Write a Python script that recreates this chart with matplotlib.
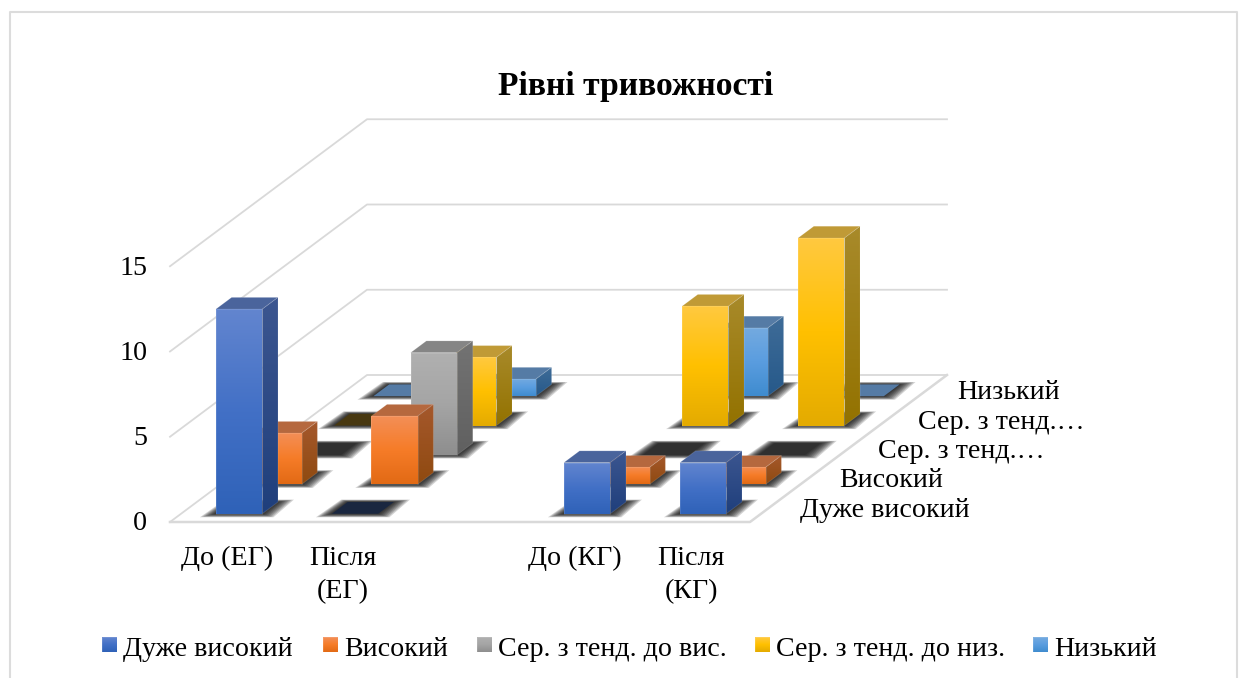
import numpy as np
import matplotlib
matplotlib.use('Agg')
import matplotlib.pyplot as plt
from matplotlib.patches import Polygon
from matplotlib.colors import to_rgb

plt.rcParams['font.family'] = ['Liberation Serif', 'DejaVu Serif']

title = 'Рівні тривожності'
categories = ['До (ЕГ)', 'Після\n(ЕГ)', '', 'До (КГ)', 'Після\n(КГ)']
series_axis = ['Дуже високий', 'Високий', 'Сер. з тенд.…', 'Сер. з тенд.…', 'Низький']
legend_labels = ['Дуже високий', 'Високий', 'Сер. з тенд. до вис.', 'Сер. з тенд. до низ.', 'Низький']
value_ticks = [0, 5, 10, 15]

# values per series, one entry per category (None = blank spacer category)
very_high = [12, 0, None, 3, 3]
high = [3, 4, None, 1, 1]
mid_high = [0, 6, None, 0, 0]
mid_low = [0, 4, None, 7, 11]
low = [0, 1, None, 4, 0]
series = [very_high, high, mid_high, mid_low, low]

# colours per series: front gradient (top, middle, bottom), side gradient, top face, flat zero bar
front_cols = [('#6285cf', '#4270c6', '#2f62b8'), ('#f38f58', '#f67c28', '#e26a15'),
              ('#b0b0b0', '#a5a5a5', '#8e8e8e'), ('#ffc93f', '#ffc000', '#e4ab00'),
              ('#74aae0', '#5a9ddf', '#3f8ccf')]
side_cols = [('#3c5690', '#1f3f7c'), ('#a5582c', '#8f4a10'), ('#737373', '#606060'),
             ('#a88a2a', '#937200'), ('#3f6c98', '#26598a')]
top_cols = ['#4a649c', '#b5683e', '#858585', '#c09a36', '#557ba5']
zero_cols = ['#1a2740', '#b5683e', '#303030', '#483810', '#557ba5']

# floor corner and scale in image pixels
X0, Y0 = 170, 522
CAT_W = 116
UNIT = 17.05
DX, DY = 39.4, 29.4
BAR_OFF, BAR_W = 0.30, 0.40
GAP, DEPTH = 0.28, 0.40


def pt(cat, depth, value):
    return (X0 + cat * CAT_W + depth * DX, Y0 - value * UNIT - depth * DY)


def gradient(ax, poly, stops, z):
    xs, ys = zip(*poly)
    n = 64
    pos = np.linspace(0, len(stops) - 1, n)
    rgb = np.array([to_rgb(c) for c in stops])
    img = np.stack([np.interp(pos, range(len(stops)), rgb[:, i]) for i in range(3)], axis=1)[:, None, :]
    im = ax.imshow(img, extent=(min(xs), max(xs), max(ys), min(ys)), origin='upper',
                   aspect='auto', zorder=z, interpolation='bilinear')
    im.set_clip_path(Polygon(poly, transform=ax.transData))
    ax.add_patch(Polygon(poly, fc='none', ec=(1, 1, 1, 0.12), lw=0.7, zorder=z + 0.1))


fig = plt.figure(figsize=(12.41, 6.78), dpi=100)
ax = fig.add_axes([0, 0, 1, 1])

# chart border
ax.plot([9.5, 9.5, 1237, 1237], [678, 12, 12, 678], color='#dcdcdc', lw=1.5, zorder=1)

# walls and floor
grid = '#d9d9d9'
for v in value_ticks:
    ax.plot(*zip(pt(0, 0, v), pt(0, 5, v), pt(5, 5, v)), color=grid, lw=1.3, zorder=1)
ax.plot(*zip(pt(0, 0, 0), pt(5, 0, 0), pt(5, 5, 0)), color=grid, lw=1.8, zorder=1)

# shadows on the floor first
for s, vals in enumerate(series):
    d0, d1 = s + GAP, s + GAP + DEPTH
    for c, v in enumerate(vals):
        if v is None:
            continue
        c0, c1 = c + BAR_OFF, c + BAR_OFF + BAR_W
        a, b, e, f = pt(c0, d0, 0), pt(c1, d0, 0), pt(c1, d1, 0), pt(c0, d1, 0)
        for k in (16, 14, 12, 10, 8, 6, 4, 2):
            q = [(a[0] - k, a[1] + k * 0.22), (b[0] + k * 0.7, b[1] + k * 0.22),
                 (e[0] + k, e[1] - k * 0.15), (f[0] - k * 0.4, f[1] - k * 0.15)]
            ax.add_patch(Polygon(q, fc='k', ec='none', alpha=0.17, zorder=2))

# bars, back row first
z = 3
for s in range(len(series) - 1, -1, -1):
    d0, d1 = s + GAP, s + GAP + DEPTH
    for c, v in enumerate(series[s]):
        if v is None:
            continue
        c0, c1 = c + BAR_OFF, c + BAR_OFF + BAR_W
        top = [pt(c0, d0, v), pt(c1, d0, v), pt(c1, d1, v), pt(c0, d1, v)]
        if v == 0:
            ax.add_patch(Polygon(top, fc=zero_cols[s], ec='none', zorder=z))
            z += 1
            continue
        front = [pt(c0, d0, 0), pt(c1, d0, 0), pt(c1, d0, v), pt(c0, d0, v)]
        side = [pt(c1, d0, 0), pt(c1, d1, 0), pt(c1, d1, v), pt(c1, d0, v)]
        ax.add_patch(Polygon(top, fc=top_cols[s], ec=(1, 1, 1, 0.12), lw=0.7, zorder=z))
        gradient(ax, side, side_cols[s], z + 0.2)
        gradient(ax, front, front_cols[s], z + 0.4)
        z += 1

# texts
txt = '#000000'
ax.text(635.5, 86, title, ha='center', va='center', fontsize=24.2, fontweight='bold', color=txt, zorder=500)
for v in value_ticks:
    ax.text(147, Y0 - v * UNIT + 2, str(v), ha='right', va='center', fontsize=20.2, color=txt, zorder=500)
for c, name in enumerate(categories):
    x = pt(c + 0.5, 0, 0)[0] - 1
    ax.text(x, 546, name, ha='center', va='top', fontsize=20.2, color=txt, linespacing=1.4, zorder=500)
for s, name in enumerate(series_axis):
    x, y = pt(5, s + 0.5, 0)
    ax.text(x + 30, y + 3, name, ha='left', va='center', fontsize=20.2, color=txt, zorder=500)

# legend
key_x = [102, 323, 477, 755, 1033]
for s, name in enumerate(legend_labels):
    gradient(ax, [(key_x[s], 637), (key_x[s] + 15, 637), (key_x[s] + 15, 652), (key_x[s], 652)], front_cols[s], 500)
    ax.text(key_x[s] + 21, 650, name, ha='left', va='center', fontsize=20.2, color=txt, zorder=500)

ax.set_xlim(0, 1241)
ax.set_ylim(678, 0)
ax.axis('off')
fig.savefig('out.png', dpi=100)
